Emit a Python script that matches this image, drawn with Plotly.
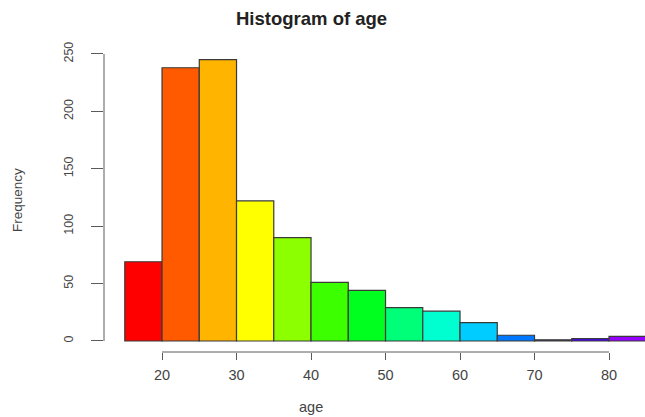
import plotly.graph_objects as go

# Histogram of age: 5-year bins with their counts
bin_edges = [15, 20, 25, 30, 35, 40, 45, 50, 55, 60, 65, 70, 75, 80, 85]
counts = [69, 238, 245, 122, 90, 51, 44, 29, 26, 16, 5, 1, 2, 4]
bar_colors = [
    "#FF0000", "#FF5A00", "#FFB400", "#FFFF00", "#8CFF00", "#3CFF00", "#00FF1E",
    "#00FF78", "#00FFD0", "#00CCFF", "#0077FF", "#1A22C8", "#4700FF", "#9500FF",
]
x_ticks = [20, 30, 40, 50, 60, 70, 80]
y_ticks = [0, 50, 100, 150, 200, 250]

centers = [(a + b) / 2 for a, b in zip(bin_edges[:-1], bin_edges[1:])]
widths = [b - a for a, b in zip(bin_edges[:-1], bin_edges[1:])]

font_family = "Liberation Sans, Arial, sans-serif"
axis_grey = "#5a5a5a"

fig = go.Figure(
    go.Bar(
        x=centers,
        y=counts,
        width=widths,
        marker=dict(color=bar_colors, line=dict(color="#3a3a3a", width=1.2)),
        hoverinfo="x+y",
    )
)

fig.update_layout(
    width=645,
    height=417,
    margin=dict(l=104, r=0, t=48, b=65),
    paper_bgcolor="white",
    plot_bgcolor="white",
    showlegend=False,
    font=dict(family=font_family, color="#444444"),
    xaxis=dict(
        range=[12.21, 84.83],
        tickvals=x_ticks,
        ticktext=[str(v) for v in x_ticks],
        ticks="outside",
        ticklen=7,
        tickcolor=axis_grey,
        tickwidth=1,
        showgrid=False,
        zeroline=False,
        showline=False,
        tickfont=dict(size=14.5, color="#444444"),
        ticklabelstandoff=3,
    ),
    yaxis=dict(
        range=[-9.6, 255.2],
        tickvals=y_ticks,
        ticktext=[str(v) for v in y_ticks],
        ticks="outside",
        ticklen=12,
        tickcolor=axis_grey,
        tickwidth=1,
        tickangle=-90,
        showgrid=False,
        zeroline=False,
        showline=False,
        tickfont=dict(size=12.5, color="#444444"),
        ticklabelstandoff=13,
    ),
    shapes=[
        # axis lines spanning only the first to last tick
        dict(type="line", xref="x", yref="paper", x0=x_ticks[0], x1=x_ticks[-1],
             y0=0, y1=0, line=dict(color=axis_grey, width=1)),
        dict(type="line", xref="paper", yref="y", x0=0, x1=0,
             y0=y_ticks[0], y1=y_ticks[-1], line=dict(color=axis_grey, width=1)),
    ],
    annotations=[
        dict(text="<b>Histogram of age</b>", xref="paper", yref="paper",
             x=(311 - 104) / 541, y=1 + (48 - 18) / 304, xanchor="center", yanchor="middle",
             showarrow=False, font=dict(size=18.5, color="#222222", family=font_family)),
        dict(text="age", xref="paper", yref="paper",
             x=(311 - 104) / 541, y=-(407 - 352) / 304, xanchor="center", yanchor="middle",
             showarrow=False, font=dict(size=14.5, color="#444444", family=font_family)),
        dict(text="Frequency", xref="paper", yref="paper",
             x=-(104 - 17) / 541, y=(352 - 200) / 304, xanchor="center", yanchor="middle",
             textangle=-90, showarrow=False,
             font=dict(size=13.5, color="#444444", family=font_family)),
    ],
)

fig.write_html("out.html")
